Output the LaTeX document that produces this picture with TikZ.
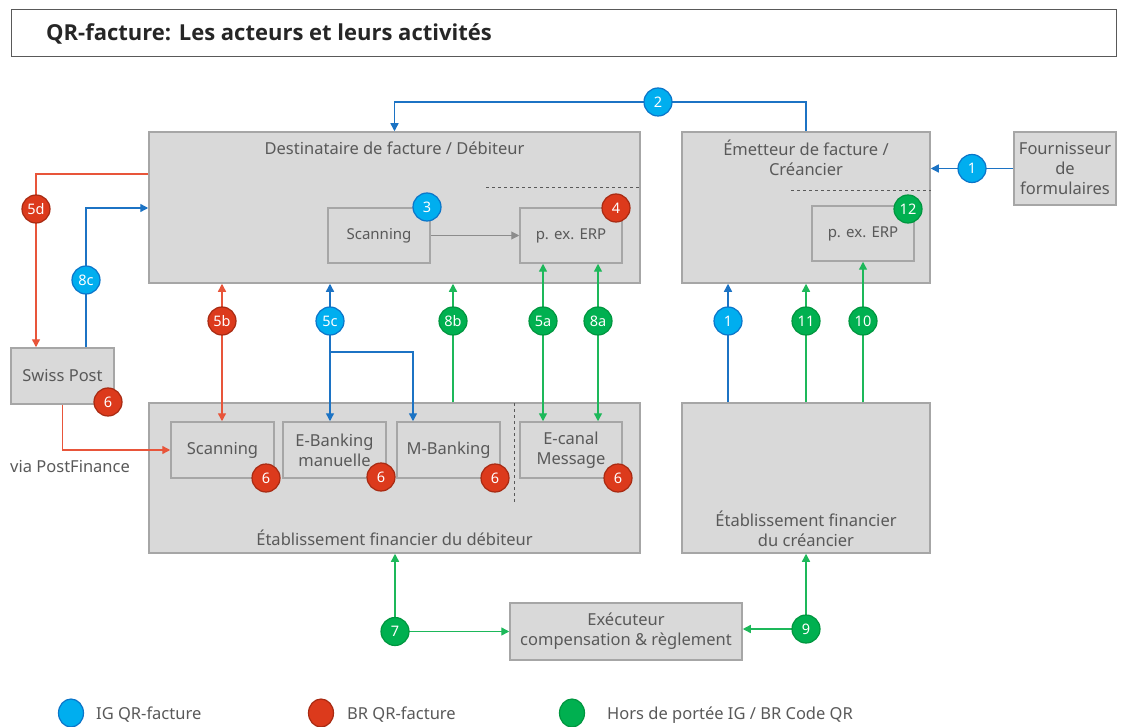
\documentclass[tikz,border=0pt]{standalone}
\usepackage{fontspec}
\setmainfont{Noto Sans}
\newfontfamily\titlefont{Open Sans}
\usetikzlibrary{arrows.meta}
\definecolor{boxfill}{HTML}{D9D9D9}
\definecolor{boxline}{HTML}{A6A6A6}
\definecolor{txt}{HTML}{595959}
\definecolor{cblue}{HTML}{00AEEF}
\definecolor{cbluedk}{HTML}{0B75C9}
\definecolor{lblue}{HTML}{1C73C4}
\definecolor{cred}{HTML}{DC3A1C}
\definecolor{creddk}{HTML}{A82A12}
\definecolor{lred}{HTML}{E8553A}
\definecolor{cgreen}{HTML}{00B050}
\definecolor{cgreendk}{HTML}{00963F}
\definecolor{lgreen}{HTML}{1DB85A}
\definecolor{lgray}{HTML}{8C8C8C}
\tikzset{
  box/.style={draw=boxline, fill=boxfill, line width=1.5pt, inner sep=0pt,
    text=txt, font=\fontsize{16.5}{20}\selectfont, align=center},
  smallbox/.style={box, font=\fontsize{15}{19}\selectfont},
  lbl/.style={text=txt, font=\fontsize{16.5}{20}\selectfont, align=center, inner sep=0pt},
  conn/.style={line width=1.4pt, -{Triangle[length=8pt,width=8pt]}},
  conn2/.style={line width=1.4pt, {Triangle[length=8pt,width=8pt]}-{Triangle[length=8pt,width=8pt]}},
  blueline/.style={conn, draw=lblue, color=lblue},
  redline/.style={conn, draw=lred, color=lred},
  greenline/.style={conn, draw=lgreen, color=lgreen},
  badge/.style={circle, minimum size=28pt, inner sep=0pt, line width=1.2pt,
    text=white, font=\fontsize{14.5}{16}\selectfont},
  bb/.style={badge, fill=cblue, draw=cbluedk},
  rb/.style={badge, fill=cred, draw=creddk},
  gb/.style={badge, fill=cgreen, draw=cgreendk},
  legdot/.style={ellipse, minimum width=25pt, minimum height=28pt},
  dashline/.style={draw=txt, dashed, line width=0.8pt},
}
\usetikzlibrary{shapes.geometric}
\begin{document}
\begin{tikzpicture}[x=1pt,y=-1pt]
\useasboundingbox (0,0) rectangle (1121,727);
% title
\node[draw=txt, line width=1pt, minimum width=1105pt, minimum height=47pt, inner sep=0pt] (title) at (563.5,33.5) {};
\node[anchor=west, inner sep=0pt, text=black!85, font=\titlefont\fontsize{22}{26}\selectfont\bfseries] (titletext) at (46,34) {QR-facture: Les acteurs et leurs activités};

% big boxes
\node[box, minimum width=491pt, minimum height=151pt] (dest) at (394.5,207.5) {};
\node[lbl] (destlbl) at (394.5,148) {Destinataire de facture / Débiteur};
\node[box, minimum width=248pt, minimum height=151pt] (emet) at (806,207.5) {};
\node[lbl] (emetlbl) at (806,158) {Émetteur de facture /\\Créancier};
\node[box, minimum width=102pt, minimum height=73pt] (four) at (1065,168.5) {Fournisseur\\de\\formulaires};
\node[box, minimum width=103pt, minimum height=56pt] (swiss) at (62.5,376) {Swiss Post};
\node[lbl, anchor=west] (viapf) at (10,466) {via PostFinance};
\node[box, minimum width=491pt, minimum height=150pt] (bankD) at (394.5,478) {};
\node[lbl] (bankDlbl) at (394.5,538) {Établissement financier du débiteur};
\node[box, minimum width=248pt, minimum height=150pt] (bankC) at (806,478) {};
\node[lbl] (bankClbl) at (806,529) {Établissement financier\\du créancier};
\node[box, minimum width=232pt, minimum height=57pt] (exec) at (626,631.5) {Exécuteur\\compensation \& règlement};

% dashed separators
\draw[dashline] (486,187) -- (dest.east |- 0,187);
\draw[dashline] (791,190) -- (emet.east |- 0,190);
\draw[dashline] (514,403) -- (514,503);

% inner boxes
\node[smallbox, minimum width=102pt, minimum height=55pt] (scanD) at (379,235.5) {Scanning};
\node[smallbox, minimum width=102pt, minimum height=55pt] (erpD) at (571,235.5) {p. ex. ERP};
\node[smallbox, minimum width=102pt, minimum height=55pt] (erpC) at (863,233.5) {p. ex. ERP};
\node[box, minimum width=103pt, minimum height=56pt] (scanB) at (222.5,450) {Scanning};
\node[box, minimum width=103pt, minimum height=56pt] (ebank) at (334.5,450) {E-Banking\\manuelle};
\node[box, minimum width=103pt, minimum height=56pt] (mbank) at (448.5,450) {M-Banking};
\node[box, minimum width=102pt, minimum height=56pt] (ecanal) at (571,450) {E-canal\\Message};

% badge positions
\coordinate (b2) at (658,102);
\coordinate (b1t) at (972,168.5);
\coordinate (b5d) at (36,209);
\coordinate (b8c) at (86,280);
\coordinate (b5b) at (222,321);
\coordinate (b5c) at (330,321);
\coordinate (b8b) at (453,321);
\coordinate (b5a) at (543,321);
\coordinate (b8a) at (598,321);
\coordinate (b1) at (728,321);
\coordinate (b11) at (806,321);
\coordinate (b10) at (863,321);
\coordinate (b7) at (395,631.5);
\coordinate (b9) at (806,629);

% connectors
\draw[blueline] (emet.north) |- (b2) -| (dest.north);
\draw[blueline] (four.west) -- (emet.east |- four.west);
\draw[conn, draw=lgray, color=lgray, line width=1pt] (scanD.east) -- (erpD.west);
\draw[redline] (dest.west |- 0,174) -| (b5d |- swiss.north);
\draw[blueline] (b8c |- swiss.north) |- (dest.west |- 0,208);
\draw[redline] (swiss.south) |- (scanB.west);
\draw[redline, conn2] (b5b |- dest.south) -- (b5b |- scanB.north);
\draw[blueline] (b5c) -- (b5c |- dest.south);
\draw[blueline] (b5c) -- (b5c |- ebank.north);
\draw[blueline] (b5c |- 0,352) -| (mbank.north -| 413,0);
\draw[greenline] (b8b |- bankD.north) -- (b8b |- dest.south);
\draw[greenline, conn2] (b5a |- erpD.south) -- (b5a |- ecanal.north);
\draw[greenline, conn2] (b8a |- erpD.south) -- (b8a |- ecanal.north);
\draw[blueline] (b1 |- bankC.north) -- (b1 |- emet.south);
\draw[greenline] (b11 |- bankC.north) -- (b11 |- emet.south);
\draw[greenline] (b10 |- bankC.north) -- (b10 |- erpC.south);
\draw[greenline] (b7) -- (b7 |- bankD.south);
\draw[greenline] (b7) -- (exec.west |- b7);
\draw[greenline] (b9) -- (b9 |- bankC.south);
\draw[greenline] (b9) -- (exec.east |- b9);

% badges
\node[bb] (n2) at (b2) {2};
\node[bb] (n1t) at (b1t) {1};
\node[bb] (n3) at (427,207) {3};
\node[rb] (n4) at (616,208) {4};
\node[gb] (n12) at (908,209) {12};
\node[rb] (n5d) at (b5d) {5d};
\node[bb] (n8c) at (b8c) {8c};
\node[rb] (n5b) at (b5b) {5b};
\node[bb] (n5c) at (b5c) {5c};
\node[gb] (n8b) at (b8b) {8b};
\node[gb] (n5a) at (b5a) {5a};
\node[gb] (n8a) at (b8a) {8a};
\node[bb] (n1) at (b1) {1};
\node[gb] (n11) at (b11) {11};
\node[gb] (n10) at (b10) {10};
\node[rb] (n6s) at (108,402) {6};
\node[rb] (n6a) at (266,478) {6};
\node[rb] (n6b) at (381,477) {6};
\node[rb] (n6c) at (495,478) {6};
\node[rb] (n6d) at (618,478) {6};
\node[gb] (n7) at (b7) {7};
\node[gb] (n9) at (b9) {9};

% legend
\node[bb, legdot] (lg1) at (71,713) {};
\node[lbl, anchor=west] (lt1) at (96,715) {IG QR-facture};
\node[rb, legdot] (lg2) at (321,713) {};
\node[lbl, anchor=west] (lt2) at (347,715) {BR QR-facture};
\node[gb, legdot] (lg3) at (572,713) {};
\node[lbl, anchor=west] (lt3) at (607,715) {Hors de portée IG / BR Code QR};
\end{tikzpicture}
\end{document}
